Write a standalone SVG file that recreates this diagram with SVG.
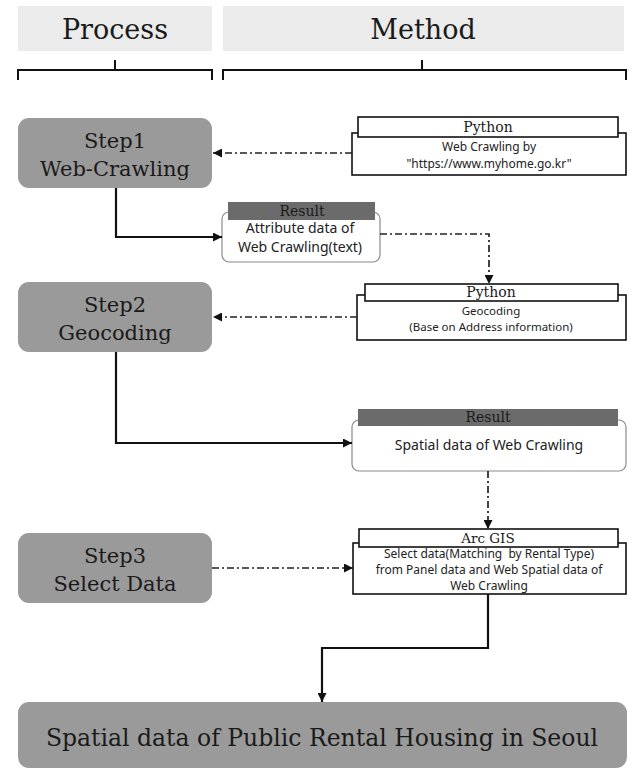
<svg xmlns="http://www.w3.org/2000/svg" width="632" height="769" viewBox="0 0 632 769">
<style>
.hdr{fill:#ebebeb}
.serif{font-family:"DejaVu Serif","Liberation Serif",serif;fill:#1a1a1a;text-anchor:middle}
.sans{font-family:"Noto Sans","Open Sans","Liberation Sans",sans-serif;fill:#222;text-anchor:middle;white-space:pre}
.step{fill:#9a9a9a}
.brk{fill:none;stroke:#111;stroke-width:2}
.tool{fill:#fff;stroke:#111;stroke-width:1.6}
.res{fill:#fff;stroke:#8a8a8a;stroke-width:1.2}
.resh{fill:#6b6b6b}
.solid{fill:none;stroke:#111;stroke-width:2.2}
.dd{fill:none;stroke:#222;stroke-width:1.7;stroke-dasharray:7 3 2 3}
</style>
<defs>
<marker id="ah" viewBox="0 0 10 10" refX="10" refY="5" markerWidth="9" markerHeight="9" markerUnits="userSpaceOnUse" orient="auto">
<path d="M0,0 L10,5 L0,10 z" fill="#111"/>
</marker>
</defs>

<g id="header-process">
<rect class="hdr" x="18" y="6" width="194" height="45"/>
<text class="serif" x="115" y="39" font-size="27">Process</text>
<path class="brk" d="M18,80 V70 H212 V80 M115,60 V70"/>
</g>
<g id="header-method">
<rect class="hdr" x="223" y="6" width="401" height="45"/>
<text class="serif" x="423" y="39" font-size="27">Method</text>
<path class="brk" d="M223,80 V70 H626 V80 M422,60 V70"/>
</g>

<g id="step1">
<rect class="step" x="18" y="118" width="194" height="70" rx="11"/>
<text class="serif" x="115" y="148" font-size="21">Step1</text>
<text class="serif" x="115" y="176" font-size="21">Web-Crawling</text>
</g>
<g id="step2">
<rect class="step" x="18" y="282" width="194" height="70" rx="11"/>
<text class="serif" x="115" y="312" font-size="21">Step2</text>
<text class="serif" x="115" y="340" font-size="21">Geocoding</text>
</g>
<g id="step3">
<rect class="step" x="18" y="533" width="194" height="70" rx="11"/>
<text class="serif" x="115" y="563" font-size="21">Step3</text>
<text class="serif" x="115" y="591" font-size="21">Select Data</text>
</g>

<g id="python1">
<rect class="tool" x="352" y="133" width="274" height="42"/>
<rect class="tool" x="358" y="117" width="260" height="20"/>
<text class="serif" x="488" y="132" font-size="14">Python</text>
<text class="sans" x="489" y="151" font-size="12">Web Crawling by</text>
<text class="sans" x="489" y="168" font-size="12">"https://www.myhome.go.kr"</text>
</g>

<g id="result1">
<rect class="res" x="222" y="212" width="158" height="50" rx="7"/>
<rect class="resh" x="228" y="202" width="147" height="18"/>
<text class="serif" x="302" y="216" font-size="14">Result</text>
<text class="sans" x="300" y="233" font-size="14">Attribute data of</text>
<text class="sans" x="300" y="252" font-size="14">Web Crawling(text)</text>
</g>

<g id="python2">
<rect class="tool" x="357" y="295" width="269" height="45"/>
<rect class="tool" x="365" y="284" width="253" height="17"/>
<text class="serif" x="491" y="297" font-size="14">Python</text>
<text class="sans" x="491" y="315" font-size="11.5">Geocoding</text>
<text class="sans" x="491" y="331" font-size="11.5">(Base on Address information)</text>
</g>

<g id="result2">
<rect class="res" x="352" y="420" width="274" height="51" rx="7"/>
<rect class="resh" x="358" y="409" width="260" height="17"/>
<text class="serif" x="488" y="422" font-size="14">Result</text>
<text class="sans" x="489" y="450" font-size="14">Spatial data of Web Crawling</text>
</g>

<g id="arcgis">
<rect class="tool" x="353" y="543" width="273" height="51"/>
<rect class="tool" x="359" y="529" width="259" height="18"/>
<text class="serif" x="488" y="543" font-size="13.5">Arc GIS</text>
<text class="sans" x="489" y="558" font-size="12">Select data(Matching  by Rental Type)</text>
<text class="sans" x="489" y="574" font-size="12">from Panel data and Web Spatial data of</text>
<text class="sans" x="489" y="590" font-size="12">Web Crawling</text>
</g>

<g id="final">
<rect class="step" x="18" y="702" width="609" height="66" rx="11"/>
<text class="serif" x="322" y="746" font-size="23.5">Spatial data of Public Rental Housing in Seoul</text>
</g>

<g id="connectors">
<path class="dd" d="M352,153 H213" marker-end="url(#ah)"/>
<path class="solid" d="M116,188 V237 H222" marker-end="url(#ah)"/>
<path class="dd" d="M380,234 H489 V284" marker-end="url(#ah)"/>
<path class="dd" d="M357,317 H213" marker-end="url(#ah)"/>
<path class="solid" d="M116,352 V443 H352" marker-end="url(#ah)"/>
<path class="dd" d="M488,471 V529" marker-end="url(#ah)"/>
<path class="dd" d="M212,568 H353" marker-end="url(#ah)"/>
<path class="solid" d="M488,594 V648 H322 V702" marker-end="url(#ah)"/>
</g>
</svg>
